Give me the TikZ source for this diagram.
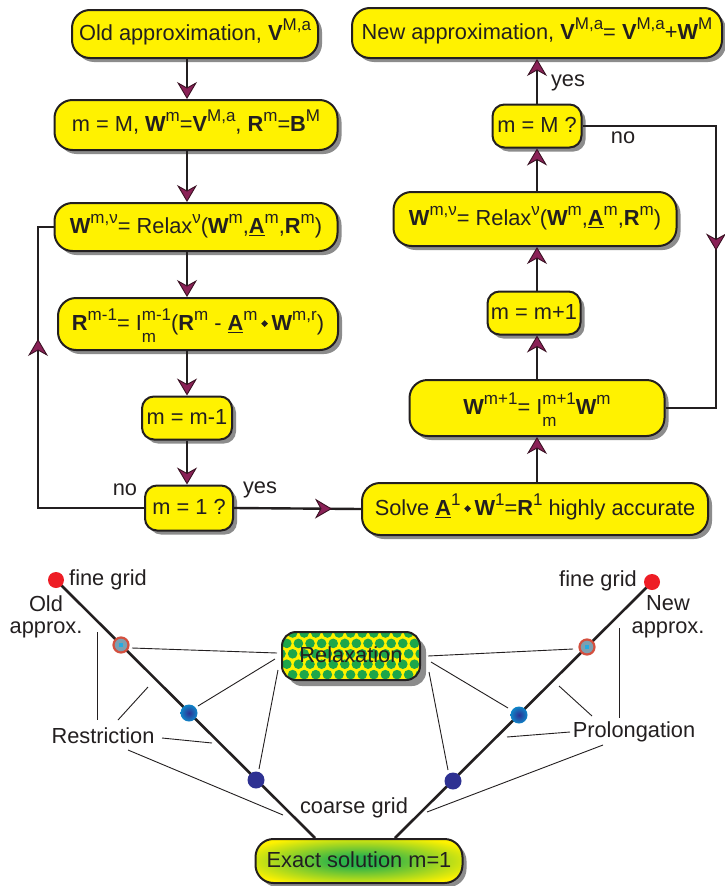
\documentclass[tikz,border=0pt]{standalone}
\usepackage{fontspec}
\usepackage{graphicx}
\setmainfont{Liberation Sans}
\usetikzlibrary{arrows.meta,shadows,decorations.markings,calc}
\definecolor{boxyellow}{HTML}{FFF200}
\definecolor{ink}{HTML}{231F20}
\definecolor{tipfill}{HTML}{8A2157}
\definecolor{tipdraw}{HTML}{3B1224}
\definecolor{dotgreen}{HTML}{1DA64A}
\definecolor{gridred}{HTML}{EE1D25}
\definecolor{ringred}{HTML}{D4503F}
\definecolor{ringin}{HTML}{7D9FB0}
\definecolor{ringcore}{HTML}{25AAE1}
\definecolor{bluemid}{HTML}{0E86C9}
\definecolor{bluecore}{HTML}{2E3192}
\definecolor{darkblue}{HTML}{2E3192}
\definecolor{exgreen}{HTML}{2DB34A}
\pgfdeclareradialshading{exactsh}{\pgfpointorigin}{color(0bp)=(exgreen); color(6bp)=(exgreen); color(30bp)=(boxyellow); color(50bp)=(boxyellow)}
\newcommand\supx[1]{\raisebox{9.8pt}{\fontsize{17}{18}\selectfont #1}}
\newcommand\supsubx[2]{{\fontsize{17}{18}\selectfont\rlap{\raisebox{-11.5pt}{#2}}\raisebox{9.8pt}{#1}}}
\newcommand\bfx[1]{\textbf{#1}}
\newcommand\Aul{\underline{\textbf{A}}}
\newcommand\dmd{\,\raisebox{3.5pt}{\rotatebox{45}{\rule{4.8pt}{4.8pt}}}\,}
\begin{document}
\begin{tikzpicture}[x=1pt,y=-1pt,
  every node/.style={font=\fontsize{21.8}{25}\selectfont, text=ink},
  flowtip/.tip={Stealth[length=17pt,width=20pt,inset=5.5pt,fill=tipfill,color=tipdraw,line width=0.9pt]},
  conn/.style={draw=ink, line width=2.4pt},
  flow/.style={conn, -{flowtip}},
  midarrow/.style={postaction={decorate, decoration={markings, mark=at position #1 with {\arrow{flowtip}}}}},
  box/.style={draw=ink, line width=2pt, fill=boxyellow, rounded corners=18pt, inner sep=0pt,
    text height=13pt, text depth=0pt,
    drop shadow={shadow xshift=4pt, shadow yshift=-4pt, fill=black!45, opacity=1}},
  sbox/.style={box, rounded corners=12pt},
  gridline/.style={draw=ink, line width=2.6pt},
  thinline/.style={draw=ink, line width=0.9pt},
  dotbase/.style={circle, inner sep=0pt, minimum size=16pt},
  reddot/.style={dotbase, fill=gridred},
  ringdot/.style={dotbase, minimum size=15pt, fill=ringin, draw=ringred, line width=2.2pt,
    path picture={\fill[ringcore] ($(path picture bounding box.center)+(-2.2,-2.2)$) rectangle ($(path picture bounding box.center)+(2.2,2.2)$);}},
  bluedot/.style={dotbase, minimum size=17pt, shade, inner color=bluecore, outer color=bluemid},
  dkdot/.style={dotbase, minimum size=17pt, fill=darkblue},
  lbl/.style={inner sep=0pt}
]
\fill[white] (0,0) rectangle (725,886);
\useasboundingbox (0,0) rectangle (725,886);

% ---------- left column ----------
\node[box, minimum width=246pt, minimum height=48pt] (old) at (195,34) {Old approximation, \bfx{V}\supx{M,a}};
\node[box, minimum width=283pt, minimum height=50pt] (mM) at (196,125) {m = M, \bfx{W}\supx{m}=\bfx{V}\supx{M,a}, \bfx{R}\supx{m}=\bfx{B}\supx{M}};
\node[box, minimum width=283pt, minimum height=48pt] (relL) at (196,227) {\bfx{W}\supx{m,ν}= Relax\supx{ν}(\bfx{W}\supx{m},\Aul\supx{m},\bfx{R}\supx{m})};
\node[box, minimum width=280pt, minimum height=52pt] (restr) at (198,324) {\bfx{R}\supx{m-1}= I\supsubx{m-1}{m}(\bfx{R}\supx{m} - \Aul\supx{m}\dmd\bfx{W}\supx{m,r})};
\node[sbox, minimum width=90pt, minimum height=43pt] (mm1) at (187,418) {m = m-1};
\node[sbox, minimum width=88pt, minimum height=45pt] (m1) at (189,508) {m = 1 ?};

% ---------- right column ----------
\node[box, minimum width=346pt, minimum height=52pt] (solve) at (535,509) {Solve \Aul\supx{1}\dmd\bfx{W}\supx{1}=\bfx{R}\supx{1} highly accurate};
\node[box, minimum width=255pt, minimum height=56pt] (wnext) at (537,408) {\bfx{W}\supx{m+1}= I\supsubx{m+1}{m}\bfx{W}\supx{m}};
\node[sbox, minimum width=93pt, minimum height=43pt] (mp1) at (534,313) {m = m+1};
\node[box, minimum width=283pt, minimum height=54pt] (relR) at (535,219) {\bfx{W}\supx{m,ν}= Relax\supx{ν}(\bfx{W}\supx{m},\Aul\supx{m},\bfx{R}\supx{m})};
\node[sbox, minimum width=89pt, minimum height=43pt] (mMq) at (537,126) {m = M ?};
\node[box, minimum width=370pt, minimum height=50pt] (newap) at (537,33) {New approximation, \bfx{V}\supx{M,a}= \bfx{V}\supx{M,a}+\bfx{W}\supx{M}};

% ---------- connectors ----------
\coordinate (cl) at (187,0);
\coordinate (cr) at (537,0);
\draw[flow] (old.south -| cl) -- (mM.north -| cl);
\draw[flow] (mM.south -| cl) -- (relL.north -| cl);
\draw[flow] (relL.south -| cl) -- (restr.north -| cl);
\draw[flow] (restr.south -| cl) -- (mm1.north -| cl);
\draw[flow] (mm1.south -| cl) -- (m1.north -| cl);
\draw[flow] (solve.north -| cr) -- (wnext.south -| cr);
\draw[flow] (wnext.north -| cr) -- (mp1.south -| cr);
\draw[flow] (mp1.north -| cr) -- (relR.south -| cr);
\draw[flow] (relR.north -| cr) -- (mMq.south -| cr);
\draw[flow] (mMq.north -| cr) -- (newap.south -| cr);

\coordinate (L1) at (38,508);
\coordinate (L2) at (38,227);
\draw[conn, line join=miter, midarrow=275pt] (m1.west) -- (L1) -- (L2) -- (relL.west);
\coordinate (R1) at (716,126);
\coordinate (R2) at (716,408);
\draw[conn, line join=miter, midarrow=258pt] (mMq.east) -- (R1) -- (R2) -- (wnext.east);
\draw[conn, midarrow=98pt] (m1.east) -- (solve.west);

\node[lbl] (noL) at (125,490) {no};
\node[lbl] (yesL) at (260,490) {yes};
\node[lbl] (yesR) at (568,83) {yes};
\node[lbl] (noR) at (623,138) {no};

% ---------- bottom: grid diagram ----------
\node[draw=ink, line width=2pt, rounded corners=18pt, inner sep=0pt, minimum width=207pt, minimum height=44pt,
  shade, shading=exactsh, text height=13pt, text depth=0pt,
  drop shadow={shadow xshift=4pt, shadow yshift=-4pt, fill=black!45, opacity=1}] (exact) at (359,861) {Exact solution m=1};

\coordinate (pFL) at (56,580);
\coordinate (pFR) at (652,582);
\coordinate (eL) at ($(exact.north)+(-44,0)$);
\coordinate (eR) at ($(exact.north)+(36,0)$);
\draw[gridline] (pFL) -- (eL);
\draw[gridline] (pFR) -- (eR);

\node[reddot] (fineL) at (pFL) {};
\node[ringdot] (ringL) at (121,645) {};
\node[bluedot] (blueL) at (189,713) {};
\node[dkdot] (dkL) at (256,780) {};
\node[reddot] (fineR) at (pFR) {};
\node[ringdot] (ringR) at (587,647) {};
\node[bluedot] (blueR) at (519,715) {};
\node[dkdot] (dkR) at (453,781) {};

\node[draw=ink, line width=2pt, rounded corners=14pt, inner sep=0pt, minimum width=138pt, minimum height=48pt,
  fill=boxyellow, text height=13pt, text depth=0pt,
  drop shadow={shadow xshift=6pt, shadow yshift=-6pt, fill=black!45, opacity=1},
  path picture={\foreach \j in {0,...,5}{\foreach \i in {0,...,12}{
     \fill[dotgreen] ($(path picture bounding box.north west)+({\i*11.6-1+mod(\j,2)*5.8},{\j*10.4+1})$) circle (4.8pt);}}}
  ] (relax) at (351,656) {Relaxation};

% labels
\node[lbl, anchor=west] (fgL) at (69,580) {fine grid};
\node[lbl, align=center, font=\fontsize{21.8}{22.5}\selectfont] (oldap) at (46,617) {Old\\approx.};
\node[lbl] (fgR) at (598,581) {fine grid};
\node[lbl, align=center, font=\fontsize{21.8}{22.5}\selectfont] (newapx) at (668,617) {New\\approx.};
\node[lbl] (restrL) at (103,736) {Restriction};
\node[lbl] (prolL) at (634,732) {Prolongation};
\node[lbl] (coarse) at (354,808) {coarse grid};

% thin lines left
\coordinate (a1) at (132,648); \coordinate (a2) at (277,653);
\coordinate (b1) at (198,706); \coordinate (b2) at (275,659);
\coordinate (c1) at (278,670); \coordinate (c2) at (259,769);
\coordinate (d1) at (97,632);  \coordinate (d2) at (97,720);
\coordinate (e1) at (118,720); \coordinate (e2) at (148,687);
\coordinate (f1) at (162,738); \coordinate (f2) at (212,743);
\coordinate (g1) at (128,750); \coordinate (g2) at (283,815);
\draw[thinline] (a1) -- (a2);
\draw[thinline] (b1) -- (b2);
\draw[thinline] (c1) -- (c2);
\draw[thinline] (d1) -- (d2);
\draw[thinline] (e1) -- (e2);
\draw[thinline] (f1) -- (f2);
\draw[thinline] (g1) -- (g2);
% thin lines right
\coordinate (h1) at (428,656); \coordinate (h2) at (573,649);
\coordinate (i1) at (431,662); \coordinate (i2) at (508,708);
\coordinate (j1) at (429,672); \coordinate (j2) at (448,770);
\coordinate (k1) at (619,628); \coordinate (k2) at (619,718);
\coordinate (l1) at (559,686); \coordinate (l2) at (592,716);
\coordinate (m1a) at (507,737); \coordinate (m2a) at (570,732);
\coordinate (n1) at (603,745); \coordinate (n2) at (427,812);
\draw[thinline] (h1) -- (h2);
\draw[thinline] (i1) -- (i2);
\draw[thinline] (j1) -- (j2);
\draw[thinline] (k1) -- (k2);
\draw[thinline] (l1) -- (l2);
\draw[thinline] (m1a) -- (m2a);
\draw[thinline] (n1) -- (n2);
\end{tikzpicture}
\end{document}
